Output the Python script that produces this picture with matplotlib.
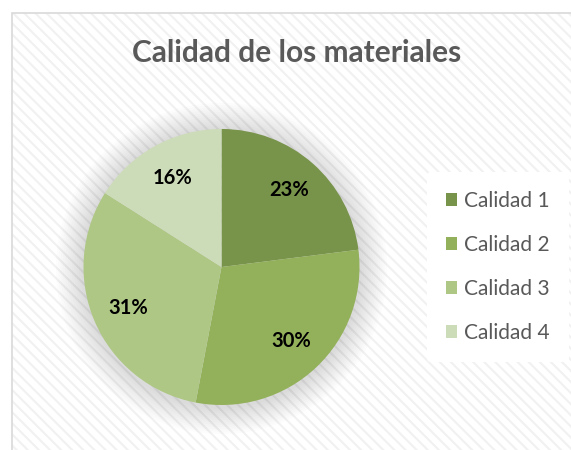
import matplotlib
matplotlib.use("Agg")
import matplotlib.pyplot as plt
from matplotlib.patches import Rectangle, Circle

# data
categories = ["Calidad 1", "Calidad 2", "Calidad 3", "Calidad 4"]
shares = [23, 30, 31, 16]
colors = ["#78934A", "#93B05A", "#AEC785", "#CDDCB8"]
title = "Calidad de los materiales"

plt.rcParams['font.family'] = ['Lato', 'DejaVu Sans']
plt.rcParams['hatch.linewidth'] = 1.5

W, H = 571, 450
fig = plt.figure(figsize=(W / 100, H / 100), dpi=100)

# chart area: white with light diagonal stripes and a grey border
bg = Rectangle((12 / W, 0), 1, 1 - 13 / H, transform=fig.transFigure,
               facecolor='white', edgecolor='#F1F1F1', lw=0, hatch='\\\\\\', zorder=-2)
fig.patches.append(bg)
border = Rectangle((12 / W, -0.05), 1.1, 1.05 - 13 / H, transform=fig.transFigure,
                   facecolor='none', edgecolor='#D9D9D9', lw=1.2, zorder=-1)
fig.patches.append(border)

fig.text(297 / W, 1 - 53 / H, title, ha='center', va='center',
         fontsize=21.5, fontweight='bold', color='#595959')

cx, cy, r = 221.5, 267, 138
ax = fig.add_axes([(cx - r) / W, (H - cy - r) / H, 2 * r / W, 2 * r / H])
ax.set_axis_off()

# soft shadow around the pie
n = 12
for k in range(n):
    ax.add_patch(Circle((0, -0.01), 1.0 + 0.2 * (n - k) / n, facecolor='#000000',
                        alpha=0.011, edgecolor='none', zorder=1, clip_on=False))

wedges, texts, autotexts = ax.pie(
    shares, colors=colors, startangle=90, counterclock=False,
    autopct='%1.0f%%', pctdistance=0.74,
    wedgeprops=dict(edgecolor='none', zorder=2),
    textprops=dict(fontsize=14.5, fontweight='bold', color='black'))
for t in autotexts:
    t.set_zorder(3)
ax.set_xlim(-1, 1)
ax.set_ylim(-1, 1)

leg = fig.legend(wedges, categories, loc='center left',
                 bbox_to_anchor=(427 / W, 1 - cy / H), frameon=True,
                 fontsize=15, labelcolor='#595959', handlelength=0.55,
                 handleheight=0.55, handletextpad=0.35, labelspacing=1.15,
                 borderpad=0.9, borderaxespad=0)
leg.get_frame().set_facecolor('white')
leg.get_frame().set_edgecolor('none')
leg.get_frame().set_alpha(1)

fig.savefig('out.png', dpi=100)
